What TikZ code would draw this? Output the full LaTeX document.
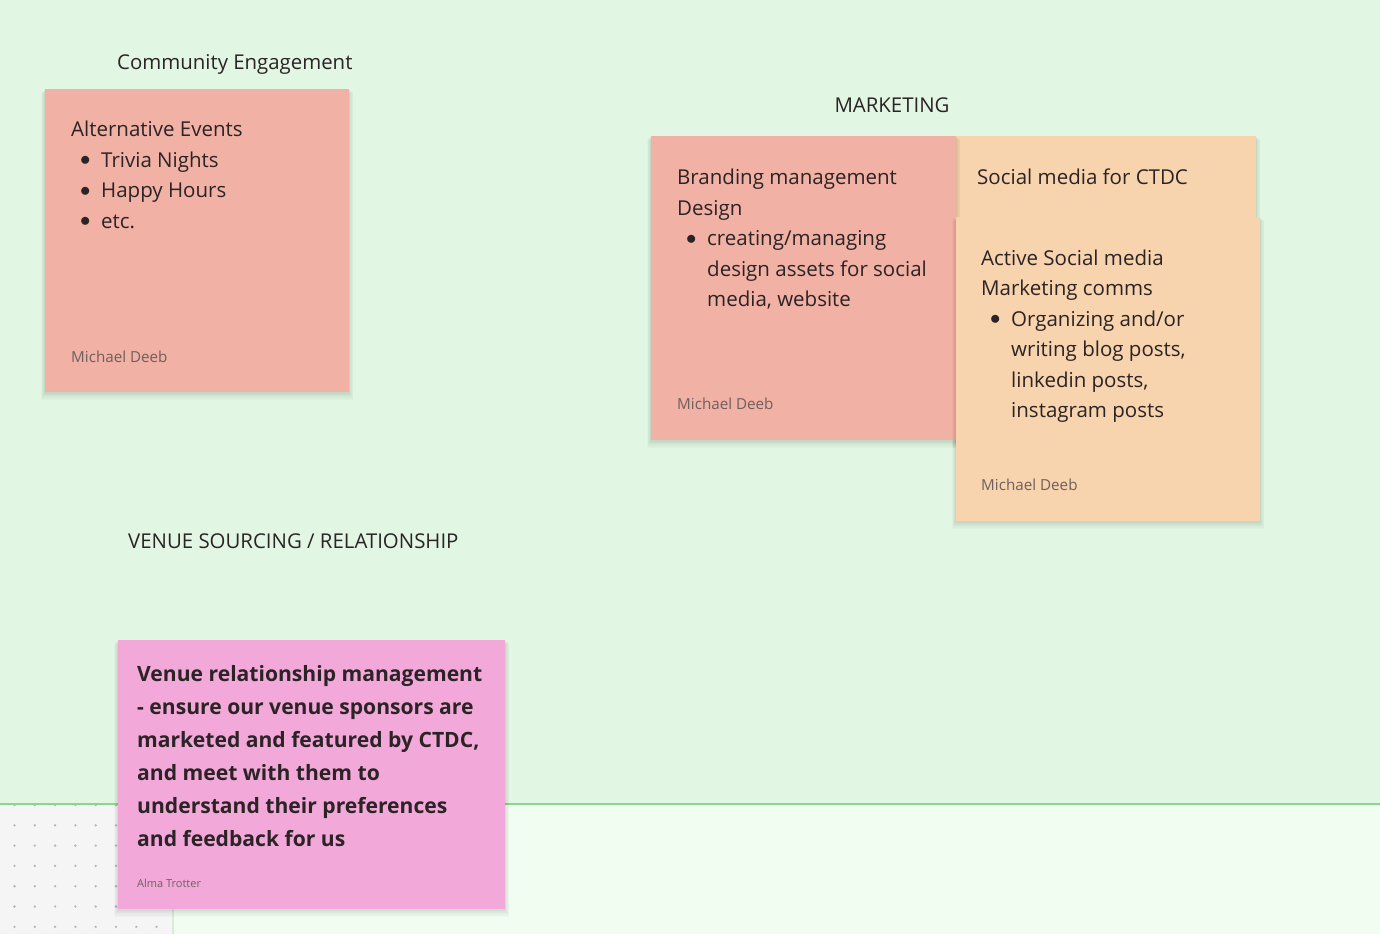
\documentclass[tikz,border=0pt]{standalone}
\usepackage{fontspec}
\setmainfont{Open Sans}
\definecolor{board}{HTML}{E1F6E3}
\definecolor{boardlow}{HTML}{F0FDF0}
\definecolor{edgegreen}{HTML}{8BD68B}
\definecolor{paleedge}{HTML}{D3F0D3}
\definecolor{gridgray}{HTML}{F5F5F5}
\definecolor{dotgray}{HTML}{B5B5B5}
\definecolor{salmon}{HTML}{F2B1A5}
\definecolor{peach}{HTML}{F7D4AD}
\definecolor{pinknote}{HTML}{F2A9D9}
\definecolor{ink}{HTML}{2B2325}
\definecolor{byline}{HTML}{6E5F5D}
\newcommand{\bul}{\makebox[30pt][l]{\hspace{9pt}\raisebox{1.5pt}{$\bullet$}}}
\newcommand{\cont}{\hspace*{30pt}}
% colour, x1, y1, x2, y2
\newcommand{\stickynote}[5]{%
	\foreach \s in {1,...,6}
		\fill[black, opacity=0.018] (#2-\s*0.7,#3+\s*0.6) rectangle (#4+\s*0.7,#5+1+\s*1.1);
	\fill[#1] (#2,#3) rectangle (#4,#5);}

\begin{document}
\begin{tikzpicture}[x=1pt, y=-1pt,
    heading/.style={inner sep=0pt, text=ink, font=\fontsize{20.4}{24}\selectfont},
    notetext/.style={anchor=north west, inner sep=0pt, align=left, text=ink, font=\fontsize{20.5}{30.5}\selectfont},
    author/.style={anchor=base west, inner sep=0pt, text=byline, font=\fontsize{15.2}{18}\selectfont}]
	\useasboundingbox (0,0) rectangle (1380,934);
	\fill[board] (0,0) rectangle (1380,804);
	\fill[boardlow] (173,804) rectangle (1380,934);
	\fill[gridgray] (0,804) rectangle (173,934);
	\foreach \i in {0,...,7}
		\foreach \j in {0,...,6}
			\fill[dotgray] (14.5+20.3*\i,805+20.3*\j) circle (1.3);
	\draw[paleedge, line width=1.5pt] (173,804) -- (173,934);
	\draw[edgegreen, line width=2pt] (0,803.5) -- (1380,803.5);

	\node[heading, anchor=base west] (community) at (117,69.3) {Community Engagement};
	\node[heading, anchor=base] (marketing) at (892,112.7) {MARKETING};
	\node[heading, anchor=base west] (venue) at (128,548.3) {VENUE SOURCING / RELATIONSHIP};

	\stickynote{salmon}{45}{89}{349}{392}
	\node[notetext] (events) at (71,115.3) {\strut Alternative Events\\
		\bul Trivia Nights\\ \bul Happy Hours\\ \bul etc.};
	\node[author] (eventsby) at (71,362.5) {Michael Deeb};

	\stickynote{peach}{956}{136}{1256}{440}
	\node[notetext] (social) at (977,163) {\strut Social media for CTDC};
	\stickynote{salmon}{651}{136}{956}{440}
	\node[notetext] (branding) at (677,163) {\strut Branding management\\ Design\\
		\bul creating/managing\\ \cont design assets for social\\ \cont media, website};
	\node[author] (brandingby) at (677,409.5) {Michael Deeb};

	\stickynote{peach}{956}{217}{1260}{521}
	\node[notetext] (activesocial) at (981,243.6) {\strut Active Social media\\ Marketing comms\\
		\bul Organizing and/or\\ \cont writing blog posts,\\ \cont linkedin posts,\\ \cont instagram posts};
	\node[author] (activesocialby) at (981,490.5) {Michael Deeb};

	\stickynote{pinknote}{118}{640}{505}{909}
	\node[notetext, font=\fontsize{21.1}{33}\bfseries\selectfont] (venuenote) at (137,658.6) {\strut Venue relationship management\\
		- ensure our venue sponsors are\\ marketed and featured by CTDC,\\ and meet with them to\\
		understand their preferences\\ and feedback for us};
	\node[author, font=\fontsize{11}{13}\selectfont] (venueby) at (137,887) {Alma Trotter};
\end{tikzpicture}
\end{document}
